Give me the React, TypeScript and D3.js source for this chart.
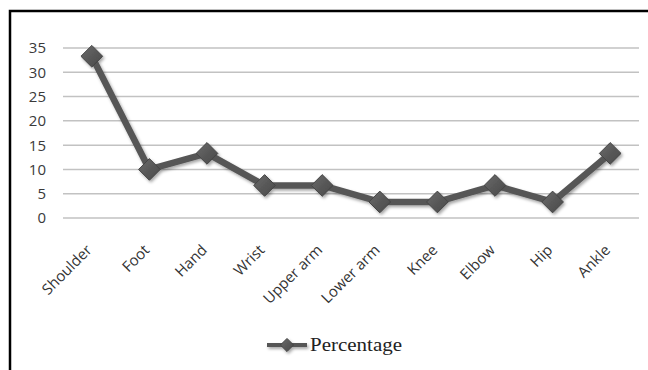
import React from "react";
import * as d3 from "d3";

const categories = ["Shoulder", "Foot", "Hand", "Wrist", "Upper arm", "Lower arm", "Knee", "Elbow", "Hip", "Ankle"];
const percentages = [33.3, 10, 13.3, 6.7, 6.7, 3.3, 3.3, 6.7, 3.3, 13.3];
const yTicks = [0, 5, 10, 15, 20, 25, 30, 35];
const seriesName = "Percentage";

const W = 648;
const H = 370;
const plot = { left: 63, right: 639, top: 48, bottom: 218 };

export default function App() {
  const x = d3.scaleBand<string>().domain(categories).range([plot.left, plot.right]);
  const y = d3.scaleLinear().domain([0, 35]).range([plot.bottom, plot.top]);
  const cx = (c: string) => (x(c) ?? 0) + x.bandwidth() / 2;

  const line = d3
    .line<number>()
    .x((_, i) => cx(categories[i]))
    .y((d) => y(d));

  const diamond = d3.symbol().type(d3.symbolDiamond2).size(300)();
  const legendDiamond = d3.symbol().type(d3.symbolDiamond2).size(110)();

  return (
    <svg
      width={W}
      height={H}
      style={{ position: "absolute", left: 0, top: 0, background: "#fff" }}
    >
      <defs>
        <filter id="shade" x="-30%" y="-30%" width="160%" height="160%">
          <feDropShadow dx="1.5" dy="2" stdDeviation="1.5" floodColor="#000" floodOpacity="0.35" />
        </filter>
        <linearGradient id="mk" x1="0" y1="0" x2="1" y2="1">
          <stop offset="0" stopColor="#6a6a6a" />
          <stop offset="1" stopColor="#474747" />
        </linearGradient>
      </defs>
      <rect x={10} y={11} width={W + 10} height={H + 10} fill="#fff" stroke="#000" strokeWidth={2.5} />

      {yTicks.map((t) => (
        <g key={t}>
          <line x1={plot.left} x2={plot.right} y1={y(t)} y2={y(t)} stroke="#c2c2c2" strokeWidth={1.5} />
          <text
            x={46}
            y={y(t)}
            dy="0.36em"
            textAnchor="end"
            fontFamily="'Open Sans', 'DejaVu Sans', sans-serif"
            fontSize={15}
            fill="#3a3a3a"
          >
            {t}
          </text>
        </g>
      ))}

      {categories.map((c) => (
        <text
          key={c}
          transform={`translate(${cx(c) + 1},${251}) rotate(-45)`}
          textAnchor="end"
          fontFamily="'Open Sans', 'DejaVu Sans', sans-serif"
          fontSize={15}
          fill="#333"
        >
          {c}
        </text>
      ))}

      <g filter="url(#shade)">
        <path d={line(percentages) ?? ""} fill="none" stroke="#575757" strokeWidth={6.5} strokeLinejoin="round" />
        {percentages.map((v, i) => (
          <path
            key={categories[i]}
            d={diamond ?? ""}
            transform={`translate(${cx(categories[i])},${y(v)})`}
            fill="url(#mk)"
            stroke="#444"
            strokeWidth={1}
          />
        ))}
      </g>

      <g transform="translate(267,345)" filter="url(#shade)">
        <line x1={0} x2={40} y1={0} y2={0} stroke="#575757" strokeWidth={4} />
        <path d={legendDiamond ?? ""} transform="translate(20,0)" fill="url(#mk)" stroke="#444" />
      </g>
      <text
        x={310}
        y={351}
        textLength={92}
        lengthAdjust="spacingAndGlyphs"
        fontFamily="'Liberation Serif', 'Times New Roman', serif"
        fontSize={19}
        fill="#222"
      >
        {seriesName}
      </text>
    </svg>
  );
}
